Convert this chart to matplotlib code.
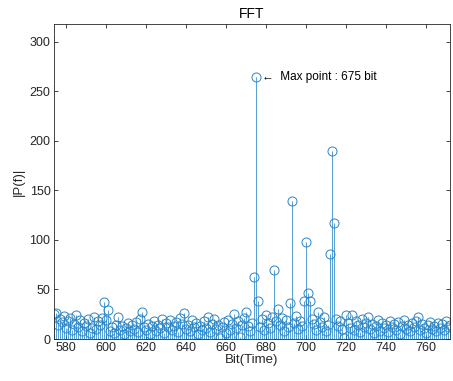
import numpy as np
import matplotlib
matplotlib.use("Agg")
import matplotlib.pyplot as plt

plt.rcParams['font.family'] = ['Liberation Sans', 'DejaVu Sans']

bit_start = 574
magnitudes = [
    25, 26, 14, 20, 17, 23, 11, 18, 21, 9,
    15, 24, 12, 19, 8, 16, 13, 20, 6, 11,
    22, 10, 18, 14, 21, 37, 19, 29, 8, 12,
    6, 14, 22, 9, 13, 5, 11, 16, 8, 14,
    10, 17, 7, 20, 27, 12, 9, 15, 5, 13,
    18, 8, 14, 11, 20, 6, 16, 12, 19, 9,
    13, 17, 7, 21, 15, 26, 10, 14, 8, 19,
    12, 16, 5, 13, 9, 18, 11, 22, 7, 15,
    20, 10, 14, 1, 12, 17, 6, 19, 9, 15,
    25, 11, 18, 2, 14, 21, 27, 13, 8, 16,
    63, 264, 38, 12, 20, 9, 24, 16, 11, 22,
    70, 18, 30, 14, 21, 8, 19, 12, 36, 139,
    16, 23, 10, 18, 13, 38, 98, 46, 38, 20,
    15, 9, 27, 17, 12, 22, 8, 14, 86, 190,
    117, 20, 13, 18, 10, 1, 24, 16, 11, 24,
    9, 18, 14, 7, 20, 12, 16, 22, 10, 15,
    6, 13, 19, 8, 16, 11, 14, 7, 18, 12,
    15, 9, 17, 5, 13, 19, 10, 14, 8, 16,
    12, 18, 22, 9, 15, 11, 6, 14, 17, 10,
    13, 8, 16, 11, 15, 9, 18, 12, 14,
]
bits = np.arange(bit_start, bit_start + len(magnitudes))
x_ticks = list(range(580, 761, 20))
y_ticks = list(range(0, 301, 50))

peak_idx = int(np.argmax(magnitudes))
peak_bit = int(bits[peak_idx])
peak_val = magnitudes[peak_idx]

blue = '#2A85C6'
axis_grey = '#262626'

fig = plt.figure(figsize=(4.53, 3.81), dpi=100)
ax = fig.add_axes([54 / 453, 42 / 381, 396 / 453, 315 / 381])

markerline, stemlines, baseline = ax.stem(bits, magnitudes, linefmt='-', markerfmt='o', basefmt='-')
plt.setp(stemlines, color=blue, linewidth=0.55)
plt.setp(markerline, color=blue, markerfacecolor='none', markeredgewidth=0.7, markersize=6.5)
plt.setp(baseline, color=axis_grey, linewidth=0.6)

ax.text(peak_bit + 3, peak_val, '\u2190  Max point : %d bit' % peak_bit,
        fontsize=8.5, va='center', ha='left', color='#000000')

ax.set_xlim(574, 772)
ax.set_ylim(0, 318)
ax.set_xticks(x_ticks)
ax.set_yticks(y_ticks)
ax.tick_params(direction='in', top=True, right=True, length=3, width=0.6,
               colors=axis_grey, labelsize=9, labelcolor=axis_grey, pad=2.5)
for s in ax.spines.values():
    s.set_color(axis_grey)
    s.set_linewidth(0.6)

ax.set_title('FFT', fontsize=10, color='#000000', pad=4)
ax.set_xlabel('Bit(Time)', fontsize=9.5, color=axis_grey, labelpad=0)
ax.set_ylabel('|P(f)|', fontsize=9.5, color=axis_grey, labelpad=3)

fig.savefig('out.png', dpi=100)
